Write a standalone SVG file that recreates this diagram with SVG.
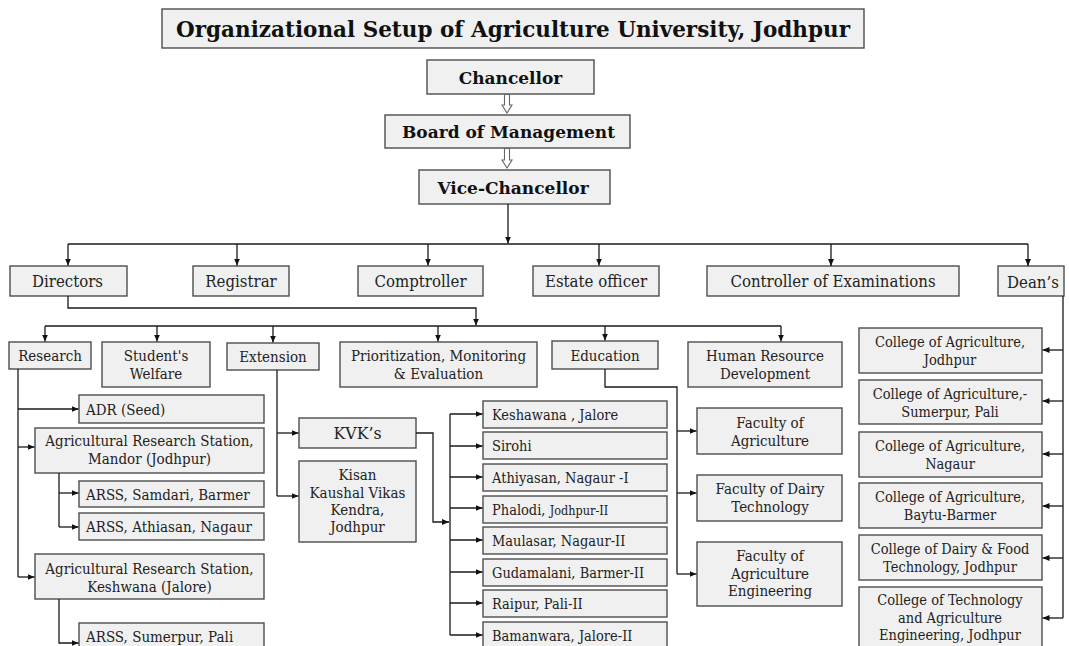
<svg xmlns="http://www.w3.org/2000/svg" width="1069" height="646" viewBox="0 0 1069 646">
  <defs>
    <style>
      .box { fill: #f0f0f0; stroke: #4d4d4d; stroke-width: 1.4; }
      .ln { fill: none; stroke: #1a1a1a; stroke-width: 1.3; }
      .arr { fill: none; stroke: #1a1a1a; stroke-width: 1.3; marker-end: url(#tip); }
      .hollow { fill: #ffffff; stroke: #666; stroke-width: 1.1; }
      text { font-family: "DejaVu Serif", "Liberation Serif", serif; fill: #222; }
      .hd { font-weight: bold; font-size: 17px; fill: #111; text-anchor: middle; }
      .ttl { font-weight: bold; font-size: 21.5px; fill: #111; text-anchor: middle; }
      .l1 { font-size: 17.5px; text-anchor: middle; }
      .l2 { font-size: 15.5px; text-anchor: middle; }
      .l2s { font-size: 15.5px; }
      .kv { font-size: 15.5px; }
      .cl { font-size: 15px; text-anchor: middle; }
    </style>
    <marker id="tip" markerWidth="8" markerHeight="8" refX="7" refY="3" orient="auto" markerUnits="userSpaceOnUse">
      <path d="M0,0 L7,3 L0,6 z" fill="#111"/>
    </marker>
  </defs>

  <!-- heading -->
  <g id="title">
    <rect class="box" x="162" y="9" width="702" height="39"/>
    <text class="ttl" x="513" y="37">Organizational Setup of Agriculture University, Jodhpur</text>
  </g>

  <!-- top of the hierarchy -->
  <g id="chancellor">
    <rect class="box" x="427" y="60" width="167" height="34"/>
    <text class="hd" x="510.5" y="83.5">Chancellor</text>
  </g>
  <g id="board">
    <rect class="box" x="385" y="115" width="245" height="33"/>
    <text class="hd" x="508.5" y="137.5">Board  of Management</text>
  </g>
  <g id="vice-chancellor">
    <rect class="box" x="419" y="170" width="191" height="34"/>
    <text class="hd" x="513" y="193.5">Vice-Chancellor</text>
  </g>

  <!-- first level officers (labels narrowed horizontally) -->
  <g id="directors">
    <rect class="box" x="10" y="266" width="117" height="30"/>
    <text class="l1" transform="translate(67.5 287) scale(.857 1)">Directors</text>
  </g>
  <g id="registrar">
    <rect class="box" x="193" y="266" width="96" height="30"/>
    <text class="l1" transform="translate(241 287) scale(.857 1)">Registrar</text>
  </g>
  <g id="comptroller">
    <rect class="box" x="358" y="266" width="125" height="30"/>
    <text class="l1" transform="translate(420.5 287) scale(.857 1)">Comptroller</text>
  </g>
  <g id="estate-officer">
    <rect class="box" x="533" y="266" width="126" height="30"/>
    <text class="l1" transform="translate(596 287) scale(.857 1)">Estate officer</text>
  </g>
  <g id="controller-exams">
    <rect class="box" x="707" y="266" width="252" height="30"/>
    <text class="l1" transform="translate(833 287) scale(.857 1)">Controller of Examinations</text>
  </g>
  <g id="deans">
    <rect class="box" x="998" y="266" width="66" height="30"/>
    <text class="l1" transform="translate(1033 288) scale(.857 1)">Dean’s</text>
  </g>

  <!-- directorates -->
  <g id="research">
    <rect class="box" x="9" y="342" width="82" height="27"/>
    <text class="l2" transform="translate(50 361) scale(.87 1)">Research</text>
  </g>
  <g id="student-welfare">
    <rect class="box" x="102" y="342" width="108" height="45"/>
    <text class="l2" transform="translate(156 361) scale(.87 1)">Student's</text>
    <text class="l2" transform="translate(156 378.5) scale(.87 1)">Welfare</text>
  </g>
  <g id="extension">
    <rect class="box" x="227" y="343" width="92" height="27"/>
    <text class="l2" transform="translate(273 362) scale(.87 1)">Extension</text>
  </g>
  <g id="pme">
    <rect class="box" x="340" y="342" width="197" height="45"/>
    <text class="l2" transform="translate(438.5 361) scale(.87 1)">Prioritization, Monitoring</text>
    <text class="l2" transform="translate(438.5 378.5) scale(.87 1)">&amp; Evaluation</text>
  </g>
  <g id="education">
    <rect class="box" x="552" y="341" width="106" height="28"/>
    <text class="l2" transform="translate(605 360.5) scale(.87 1)">Education</text>
  </g>
  <g id="hrd">
    <rect class="box" x="688" y="342" width="154" height="45"/>
    <text class="l2" transform="translate(765 361) scale(.87 1)">Human Resource</text>
    <text class="l2" transform="translate(765 378.5) scale(.87 1)">Development</text>
  </g>

  <!-- research stations -->
  <g id="adr-seed">
    <rect class="box" x="79" y="395" width="185" height="28"/>
    <text class="l2s" transform="translate(86 414.5) scale(.87 1)">ADR (Seed)</text>
  </g>
  <g id="ars-mandor">
    <rect class="box" x="35" y="428" width="229" height="45"/>
    <text class="l2" transform="translate(149.5 446) scale(.87 1)">Agricultural Research Station,</text>
    <text class="l2" transform="translate(149.5 463.5) scale(.87 1)">Mandor (Jodhpur)</text>
  </g>
  <g id="arss-samdari">
    <rect class="box" x="79" y="481" width="185" height="26"/>
    <text class="l2s" transform="translate(86 499.5) scale(.87 1)">ARSS, Samdari, Barmer</text>
  </g>
  <g id="arss-athiasan">
    <rect class="box" x="79" y="513" width="185" height="27"/>
    <text class="l2s" transform="translate(86 532) scale(.87 1)">ARSS, Athiasan, Nagaur</text>
  </g>
  <g id="ars-keshwana">
    <rect class="box" x="35" y="554" width="229" height="45"/>
    <text class="l2" transform="translate(149.5 574) scale(.87 1)">Agricultural Research Station,</text>
    <text class="l2" transform="translate(149.5 591.5) scale(.87 1)">Keshwana (Jalore)</text>
  </g>
  <g id="arss-sumerpur">
    <rect class="box" x="79" y="623" width="185" height="30"/>
    <text class="l2s" transform="translate(86 641.5) scale(.87 1)">ARSS, Sumerpur, Pali</text>
  </g>

  <!-- extension units -->
  <g id="kvks">
    <rect class="box" x="299" y="418" width="117" height="30"/>
    <text class="l1" transform="translate(357.5 439) scale(.9 1)">KVK’s</text>
  </g>
  <g id="kkvk">
    <rect class="box" x="299" y="461" width="117" height="81"/>
    <text class="l2" transform="translate(357.5 480) scale(.87 1)">Kisan</text>
    <text class="l2" transform="translate(357.5 497.5) scale(.87 1)">Kaushal Vikas</text>
    <text class="l2" transform="translate(357.5 515) scale(.87 1)">Kendra,</text>
    <text class="l2" transform="translate(357.5 532) scale(.87 1)">Jodhpur</text>
  </g>

  <!-- krishi vigyan kendras -->
  <g id="kvk-keshawana">
    <rect class="box" x="483" y="401" width="184" height="27"/>
    <text class="kv" transform="translate(492 419.5) scale(.84 1)">Keshawana ,  Jalore</text>
  </g>
  <g id="kvk-sirohi">
    <rect class="box" x="483" y="432" width="184" height="27"/>
    <text class="kv" transform="translate(492 451) scale(.84 1)">Sirohi</text>
  </g>
  <g id="kvk-athiyasan">
    <rect class="box" x="483" y="464" width="184" height="27"/>
    <text class="kv" transform="translate(492 482.5) scale(.84 1)">Athiyasan, Nagaur -I</text>
  </g>
  <g id="kvk-phalodi">
    <rect class="box" x="483" y="496" width="184" height="27"/>
    <text class="kv" transform="translate(492 514.5) scale(.84 1)">Phalodi, <tspan font-size="13.5">Jodhpur-II</tspan></text>
  </g>
  <g id="kvk-maulasar">
    <rect class="box" x="483" y="527" width="184" height="27"/>
    <text class="kv" transform="translate(492 545.5) scale(.84 1)">Maulasar, Nagaur-II</text>
  </g>
  <g id="kvk-gudamalani">
    <rect class="box" x="483" y="559" width="184" height="27"/>
    <text class="kv" transform="translate(492 577.5) scale(.84 1)">Gudamalani, Barmer-II</text>
  </g>
  <g id="kvk-raipur">
    <rect class="box" x="483" y="590" width="184" height="27"/>
    <text class="kv" transform="translate(492 608.5) scale(.84 1)">Raipur, Pali-II</text>
  </g>
  <g id="kvk-bamanwara">
    <rect class="box" x="483" y="622" width="184" height="27"/>
    <text class="kv" transform="translate(492 640.5) scale(.84 1)">Bamanwara, Jalore-II</text>
  </g>

  <!-- faculties -->
  <g id="fac-agri">
    <rect class="box" x="697" y="408" width="145" height="46"/>
    <text class="l2" transform="translate(770 428) scale(.87 1)">Faculty of</text>
    <text class="l2" transform="translate(770 445.5) scale(.87 1)">Agriculture</text>
  </g>
  <g id="fac-dairy">
    <rect class="box" x="697" y="475" width="145" height="46"/>
    <text class="l2" transform="translate(770 494) scale(.87 1)">Faculty of Dairy</text>
    <text class="l2" transform="translate(770 511.5) scale(.87 1)">Technology</text>
  </g>
  <g id="fac-agri-engg">
    <rect class="box" x="697" y="542" width="145" height="64"/>
    <text class="l2" transform="translate(770 561) scale(.87 1)">Faculty of</text>
    <text class="l2" transform="translate(770 578.5) scale(.87 1)">Agriculture</text>
    <text class="l2" transform="translate(770 596) scale(.87 1)">Engineering</text>
  </g>

  <!-- constituent colleges -->
  <g id="col-jodhpur">
    <rect class="box" x="859" y="328" width="183" height="45"/>
    <text class="cl" transform="translate(950 347) scale(.867 1)">College of Agriculture,</text>
    <text class="cl" transform="translate(950 364.5) scale(.867 1)">Jodhpur</text>
  </g>
  <g id="col-sumerpur">
    <rect class="box" x="859" y="380" width="183" height="44"/>
    <text class="cl" transform="translate(950 399) scale(.867 1)">College of Agriculture,-</text>
    <text class="cl" transform="translate(950 416.5) scale(.867 1)">Sumerpur, Pali</text>
  </g>
  <g id="col-nagaur">
    <rect class="box" x="859" y="432" width="183" height="45"/>
    <text class="cl" transform="translate(950 451) scale(.867 1)">College of Agriculture,</text>
    <text class="cl" transform="translate(950 468.5) scale(.867 1)">Nagaur</text>
  </g>
  <g id="col-baytu">
    <rect class="box" x="859" y="483" width="183" height="45"/>
    <text class="cl" transform="translate(950 502) scale(.867 1)">College of Agriculture,</text>
    <text class="cl" transform="translate(950 519.5) scale(.867 1)">Baytu-Barmer</text>
  </g>
  <g id="col-dairy">
    <rect class="box" x="859" y="535" width="183" height="45"/>
    <text class="cl" transform="translate(950 554) scale(.867 1)">College of Dairy &amp; Food</text>
    <text class="cl" transform="translate(950 571.5) scale(.867 1)">Technology, Jodhpur</text>
  </g>
  <g id="col-tech">
    <rect class="box" x="859" y="587" width="183" height="62"/>
    <text class="cl" transform="translate(950 605) scale(.867 1)">College of Technology</text>
    <text class="cl" transform="translate(950 622.5) scale(.867 1)">and Agriculture</text>
    <text class="cl" transform="translate(950 640) scale(.867 1)">Engineering, Jodhpur</text>
  </g>

  <!-- connectors -->
  <g id="connectors">
    <!-- hollow block arrows -->
    <path class="hollow" d="M504.5,94.5 V105 H502 L507,113 L512,105 H509.5 V94.5 z"/>
    <path class="hollow" d="M504.5,148.5 V160 H502 L507,168 L512,160 H509.5 V148.5 z"/>

    <!-- vice-chancellor to officers -->
    <path class="arr" d="M508,204 V243.5"/>
    <path class="ln" d="M68,244 H1028"/>
    <path class="arr" d="M68,244 V265.5"/>
    <path class="arr" d="M237,244 V265.5"/>
    <path class="arr" d="M428,244 V265.5"/>
    <path class="arr" d="M599,244 V265.5"/>
    <path class="arr" d="M831,244 V266"/>
    <path class="arr" d="M1028,244 V266"/>

    <!-- directors to directorates -->
    <path class="arr" d="M68,296 V308 H476 V325.5"/>
    <path class="ln" d="M45,326 H781"/>
    <path class="arr" d="M45,326 V341.5"/>
    <path class="arr" d="M157,326 V341.5"/>
    <path class="arr" d="M273,326 V342.5"/>
    <path class="arr" d="M438,326 V341.5"/>
    <path class="arr" d="M605,326 V340.5"/>
    <path class="arr" d="M781,326 V341.5"/>

    <!-- research -->
    <path class="ln" d="M18,369 V577"/>
    <path class="arr" d="M18,409 H78.5"/>
    <path class="arr" d="M18,447 H34.5"/>
    <path class="arr" d="M18,577 H34.5"/>
    <path class="ln" d="M59,473 V527"/>
    <path class="arr" d="M59,493 H78.5"/>
    <path class="arr" d="M59,527 H78.5"/>
    <path class="arr" d="M59,599 V643 H78.5"/>

    <!-- extension -->
    <path class="ln" d="M277,370 V496"/>
    <path class="arr" d="M277,433 H298.5"/>
    <path class="arr" d="M277,496 H298.5"/>
    <path class="arr" d="M416,433 H433 V522 H449"/>
    <path class="ln" d="M450,414 V635"/>
    <path class="arr" d="M450,414 H482.5"/>
    <path class="arr" d="M450,446 H482.5"/>
    <path class="arr" d="M450,477 H482.5"/>
    <path class="arr" d="M450,508 H482.5"/>
    <path class="arr" d="M450,540 H482.5"/>
    <path class="arr" d="M450,572 H482.5"/>
    <path class="arr" d="M450,603 H482.5"/>
    <path class="arr" d="M450,635 H482.5"/>

    <!-- education -->
    <path class="ln" d="M605,369 V387 H677 V574"/>
    <path class="arr" d="M677,431 H696.5"/>
    <path class="arr" d="M677,493 H696.5"/>
    <path class="arr" d="M677,574 H696.5"/>

    <!-- dean's -->
    <path class="ln" d="M1063,296 V618"/>
    <path class="arr" d="M1063,350 H1042.5"/>
    <path class="arr" d="M1063,401 H1042.5"/>
    <path class="arr" d="M1063,454 H1042.5"/>
    <path class="arr" d="M1063,506 H1042.5"/>
    <path class="arr" d="M1063,558 H1042.5"/>
    <path class="arr" d="M1063,618 H1042.5"/>
  </g>
</svg>
